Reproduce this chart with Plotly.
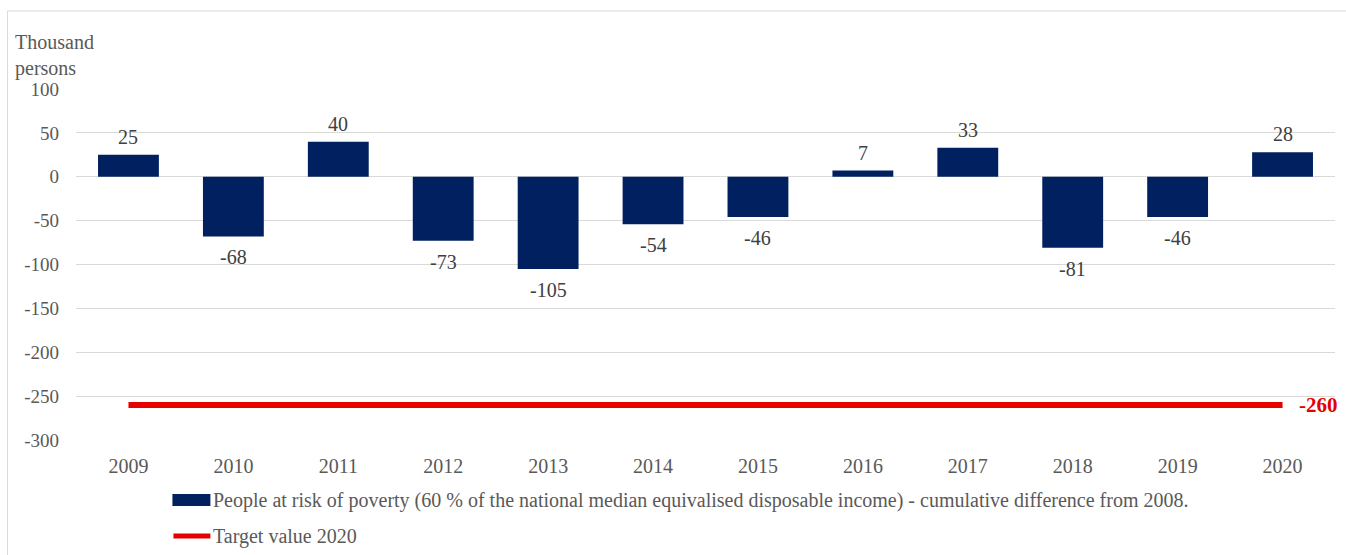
import plotly.graph_objects as go

years = ["2009", "2010", "2011", "2012", "2013", "2014", "2015", "2016", "2017", "2018", "2019", "2020"]
poverty_change = [25, -68, 40, -73, -105, -54, -46, 7, 33, -81, -46, 28]
target_2020 = [-260] * len(years)
y_ticks = [100, 50, 0, -50, -100, -150, -200, -250, -300]

bar_name = ("People at risk of poverty (60 % of the national median equivalised "
            "disposable income) - cumulative difference from 2008.")
target_name = "Target value 2020"

NAVY = "#002060"
RED = "#E60000"
SERIF = "Liberation Serif"

W, H = 1346, 555
ML, MR, MT, MB = 75.5, 10.5, 89, 115
plot_w = W - ML - MR
plot_h = H - MT - MB


def px_x(px):
    return (px - ML) / plot_w


def px_y(py):
    return (H - MB - py) / plot_h


fig = go.Figure()

fig.add_trace(go.Bar(
    x=years, y=poverty_change, name=bar_name,
    marker=dict(color=NAVY, line=dict(width=0)),
    showlegend=False,
))

fig.add_trace(go.Scatter(
    x=years, y=target_2020, name=target_name, mode="lines",
    line=dict(color=RED, width=6),
    showlegend=False,
))

# data labels: above positive bars, below negative ones
for i, v in enumerate(poverty_change):
    fig.add_annotation(
        x=i, y=v, xref="x", yref="y", text=str(v), showarrow=False,
        yanchor="bottom" if v >= 0 else "top",
        yshift=5 if v >= 0 else -8,
        font=dict(family=SERIF, size=20, color="#404040"),
    )

# value label at the end of the target line (category index of the last year)
fig.add_annotation(
    x=len(years) - 1, y=target_2020[-1], xref="x", yref="y",
    text="<b>%d</b>" % target_2020[-1], showarrow=False,
    xanchor="left", xshift=14,
    font=dict(family=SERIF, size=21, color=RED),
)

# axis unit label
fig.add_annotation(
    x=px_x(12), y=px_y(29), xref="paper", yref="paper", text="Thousand<br>persons",
    showarrow=False, xanchor="left", yanchor="top", align="left",
    font=dict(family=SERIF, size=20, color="#595959"),
)

# outer frame
fig.add_shape(type="rect", xref="paper", yref="paper",
              x0=px_x(7), x1=px_x(1352), y0=px_y(560), y1=px_y(11),
              line=dict(color="#D9D9D9", width=1), fillcolor="rgba(0,0,0,0)")

fig.update_layout(
    width=W, height=H,
    margin=dict(l=ML, r=MR, t=MT, b=MB),
    paper_bgcolor="white", plot_bgcolor="white",
    bargap=0.42,
    font=dict(family=SERIF, size=20, color="#595959"),
    xaxis=dict(
        type="category", categoryarray=years, range=[-0.5, len(years) - 0.5],
        showgrid=False, zeroline=False, showline=False,
        ticks="", tickfont=dict(family=SERIF, size=20, color="#595959"),
        ticklabelstandoff=12,
    ),
    yaxis=dict(
        range=[-300, 100], tickvals=y_ticks, ticktext=[str(v) for v in y_ticks],
        showgrid=True, gridcolor="#D9D9D9", gridwidth=1, zeroline=True,
        zerolinecolor="#D9D9D9", zerolinewidth=1,
        showline=False, ticks="",
        tickfont=dict(family=SERIF, size=19, color="#595959"),
        ticklabelstandoff=16,
    ),
    showlegend=False,
)

# hand-built legend below the plot area
fig.add_shape(type="rect", xref="paper", yref="paper",
              x0=px_x(172), x1=px_x(210), y0=px_y(506), y1=px_y(494),
              fillcolor=NAVY, line=dict(width=0))
fig.add_shape(type="line", xref="paper", yref="paper",
              x0=px_x(173), x1=px_x(210), y0=px_y(536), y1=px_y(536),
              line=dict(color=RED, width=5))
for label, ypix in [(bar_name, 500), (target_name, 536)]:
    fig.add_annotation(
        x=px_x(211), y=px_y(ypix), xref="paper", yref="paper",
        text=label, showarrow=False, xanchor="left", yanchor="middle",
        font=dict(family=SERIF, size=20, color="#595959"),
    )

fig.write_html("out.html")
